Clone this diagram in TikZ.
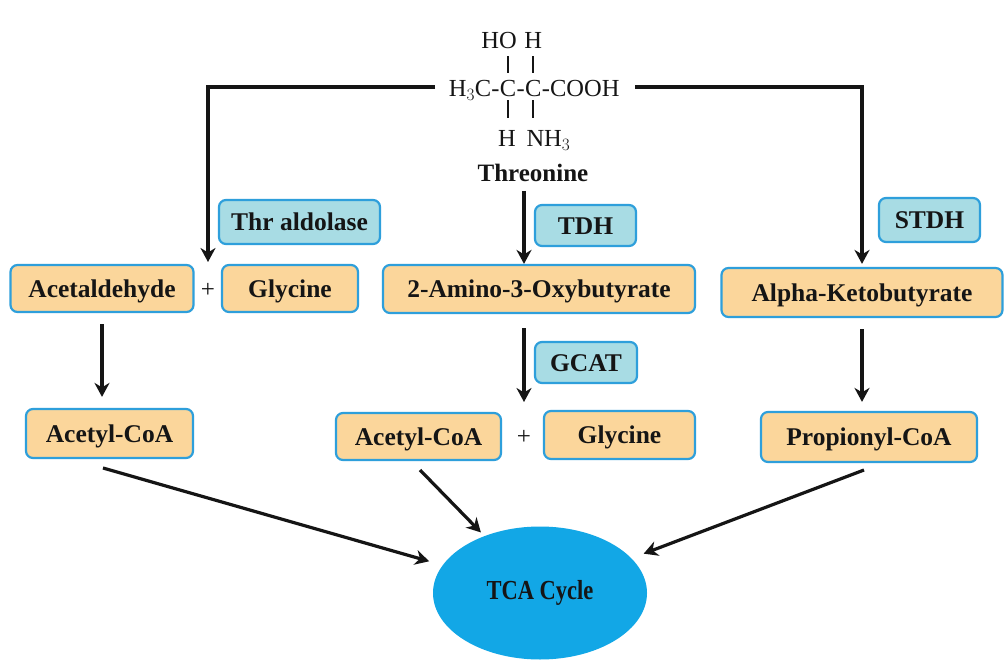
\documentclass[tikz,border=0pt]{standalone}
\usepackage{fontspec}
\setmainfont{Liberation Serif}
\usetikzlibrary{arrows.meta,shapes.geometric}
\definecolor{boxfill}{HTML}{FBD69B}
\definecolor{enzfill}{HTML}{A8DCE4}
\definecolor{bordblue}{HTML}{2E9FDB}
\definecolor{tcafill}{HTML}{12A7E6}
\definecolor{ink}{HTML}{151515}
\begin{document}
\begin{tikzpicture}[x=1pt,y=-1pt,
  metab/.style={draw=bordblue, line width=2.2pt, fill=boxfill, rounded corners=7pt,
    font=\fontsize{25.5}{28}\selectfont\bfseries, text=ink, inner sep=0pt,
    text height=17pt, text depth=0pt},
  enz/.style={draw=bordblue, line width=2.2pt, fill=enzfill, rounded corners=7pt,
    font=\fontsize{25.5}{28}\selectfont\bfseries, text=ink, inner sep=0pt,
    text height=17pt, text depth=0pt},
  chem/.style={font=\fontsize{24.5}{28}\selectfont, text=ink, inner sep=0pt},
  plussign/.style={font=\fontsize{25}{28}\selectfont, text=ink, inner sep=0pt},
  arr/.style={draw=ink, line width=3.2pt, -{Stealth[length=14pt,width=15pt,inset=4.5pt]}},
  conn/.style={draw=ink, line width=3.2pt},
  bar/.style={draw=ink, line width=2pt}
]
\useasboundingbox (0,0) rectangle (1008,668);
\fill[white] (0,0) rectangle (1008,668);

% ---- threonine structure ----
\node[chem, anchor=base] (c1) at (508,97) {C};
\node[chem, anchor=base east] (h3c) at (c1.base west) {H$_3$C-};
\node[chem, anchor=base west] (d1) at (c1.base east) {-};
\node[chem, anchor=base west] (c2) at (d1.base east) {C};
\node[chem, anchor=base west] (cooh) at (c2.base east) {-COOH};
\node[chem, anchor=base east] (ho) at (517,49) {HO};
\node[chem, anchor=base] (htop) at (c2 |- ho.base) {H};
\node[chem, anchor=base] (hbot) at (507,147) {H};
\node[chem, anchor=base west] (nh3) at ([xshift=-7pt]c2.base |- hbot.base) {NH$_3$};
\draw[bar] ([yshift=8pt]c1.north) -- ++(0,-17);
\draw[bar] ([yshift=8pt]c2.north) -- ++(0,-17);
\draw[bar] ([yshift=-3pt]c1.south) -- ++(0,18);
\draw[bar] ([yshift=-3pt]c2.south) -- ++(0,18);
\node[chem, font=\fontsize{25}{28}\selectfont\bfseries, anchor=base] (thr) at (533,182) {Threonine};

% ---- boxes ----
\node[metab, minimum width=183pt, minimum height=47pt] (acet) at (102,288.5) {Acetaldehyde};
\node[plussign] (plus1) at (208,290) {+};
\node[metab, minimum width=136pt, minimum height=47pt] (glyL) at (290,288.5) {Glycine};
\node[enz, minimum width=161pt, minimum height=44pt] (thrald) at (299.5,222) {Thr aldolase};
\node[enz, minimum width=101pt, minimum height=41pt] (tdh) at (585.5,225.5) {TDH};
\node[metab, minimum width=312pt, minimum height=48pt] (amino) at (539,289) {2-Amino-3-Oxybutyrate};
\node[enz, minimum width=102pt, minimum height=41pt] (gcat) at (586,362.5) {GCAT};
\node[metab, minimum width=165pt, minimum height=47pt] (accM) at (418.5,436.5) {Acetyl-CoA};
\node[plussign] (plus2) at (524,437) {+};
\node[metab, minimum width=151pt, minimum height=48pt] (glyM) at (619.5,435) {Glycine};
\node[enz, minimum width=101pt, minimum height=44pt] (stdh) at (929.5,220) {STDH};
\node[metab, minimum width=281pt, minimum height=49pt] (alpha) at (862,292.5) {Alpha-Ketobutyrate};
\node[metab, minimum width=167pt, minimum height=49pt] (accL) at (109.5,433.5) {Acetyl-CoA};
\node[metab, minimum width=216pt, minimum height=50pt] (prop) at (869,437) {Propionyl-CoA};
\node[ellipse, fill=tcafill, minimum width=214pt, minimum height=133pt, inner sep=0pt,
  font=\fontsize{25}{28}\selectfont\bfseries, text=ink] (tca) at (540,593) {\scalebox{0.9}[1.1]{TCA Cycle}};

% ---- connectors ----
\coordinate (lstart) at (435,87);
\coordinate (ltip) at (208,262);
\coordinate (rstart) at (635,87);
\draw[arr] (lstart) -| (ltip);
\draw[arr, shorten >=3pt] (rstart) -| (alpha.north);
\coordinate (tdown) at (524,191);
\draw[arr] (tdown) -- (tdown |- amino.north);
\coordinate (gtop) at (524,328);
\coordinate (gtip) at (524,402);
\draw[arr] (gtop) -- (gtip);
\draw[arr, shorten <=11pt, shorten >=11pt] (acet.south) -- (acet.south |- accL.north);
\draw[arr, shorten <=11pt, shorten >=9pt] (alpha.south) -- (alpha.south |- prop.north);
\coordinate (s1) at (103,468);
\coordinate (s2) at (420,470);
\coordinate (s3) at (864,470);
\draw[arr, shorten >=14pt] (s1) -- (tca);
\draw[arr, shorten >=5pt] (s2) -- (tca);
\draw[arr, shorten >=13pt] (s3) -- (tca);
\end{tikzpicture}
\end{document}
